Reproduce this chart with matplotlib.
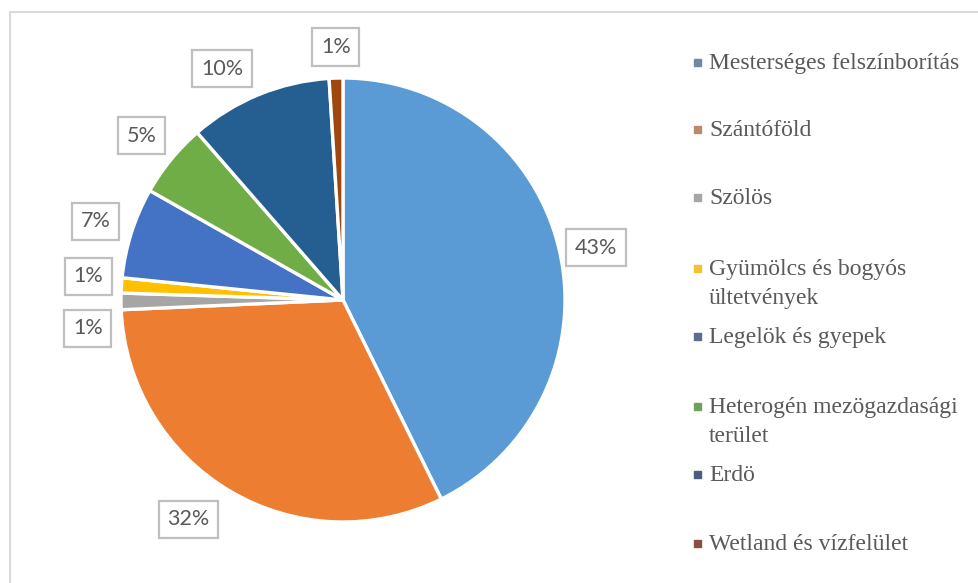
import numpy as np
import matplotlib.pyplot as plt
from matplotlib.patches import Rectangle

# data
categories = ["Mesterséges felszínborítás", "Szántóföld", "Szölös",
              "Gyümölcs és bogyós\nültetvények", "Legelök és gyepek",
              "Heterogén mezögazdasági\nterület", "Erdö", "Wetland és vízfelület"]
shares = [42.7, 31.6, 1.2, 1.1, 6.6, 5.4, 10.4, 1.0]
pct_labels = ["43%", "32%", "1%", "1%", "7%", "5%", "10%", "1%"]

colors = ["#5B9BD5", "#ED7D31", "#A5A5A5", "#FFC000",
          "#4472C4", "#70AD47", "#255E91", "#9E480E"]
legend_colors = ["#7088A8", "#B98A6E", "#A5A5A5", "#F2C230",
                 "#5B6B92", "#70A060", "#4A5F7E", "#8A5040"]

W, H = 979, 583
cx, cy, R = 343, 300, 222  # pie centre and radius in pixels

fig = plt.figure(figsize=(W / 100, H / 100), dpi=100)
fig.patch.set_facecolor("white")

# light outer frame
fig.patches.append(Rectangle((10 / W, -0.05), 1.1, (H - 12) / H + 0.05,
                             transform=fig.transFigure, fill=False,
                             edgecolor="#D9D9D9", linewidth=1.5))

ax = fig.add_axes([0, 0, 1, 1])
wedges, _ = ax.pie(shares, colors=colors, startangle=90, counterclock=False,
                   wedgeprops=dict(edgecolor="white", linewidth=2.4))
ax.set_xlim(-cx / R, (W - cx) / R)
ax.set_ylim(-(H - cy) / R, cy / R)
ax.set_aspect("equal")
ax.axis("off")

# data labels outside the slices
nudge = {0: (0.0, -0.03), 1: (-0.1, 0.02), 2: (0.02, -0.12), 3: (0.02, 0.03),
         6: (-0.1, -0.04), 7: (0.005, -0.03)}
for i, (w, lab) in enumerate(zip(wedges, pct_labels)):
    ang = np.deg2rad((w.theta1 + w.theta2) / 2)
    x, y = 1.17 * np.cos(ang), 1.17 * np.sin(ang)
    dx, dy = nudge.get(i, (0, 0))
    ax.text(x + dx, y + dy, lab, ha="center", va="center", fontsize=15.5,
            family="Lato", color="#595959",
            bbox=dict(boxstyle="square,pad=0.4", facecolor="white",
                      edgecolor="#BFBFBF", linewidth=1.6))

# legend on the right
legend_y = [62, 129, 197, 268, 336, 406, 474, 543]
for name, col, ly in zip(categories, legend_colors, legend_y):
    fig.patches.append(Rectangle((694 / W, 1 - (ly + 4) / H), 7 / W, 7 / H,
                                 transform=fig.transFigure, color=col))
    for k, line in enumerate(name.split("\n")):
        fig.text(709 / W, 1 - (ly + 7 + 29 * k) / H, line, ha="left",
                 va="baseline", fontsize=17, family="Liberation Serif",
                 color="#595959")

fig.savefig("out.png", dpi=100)
